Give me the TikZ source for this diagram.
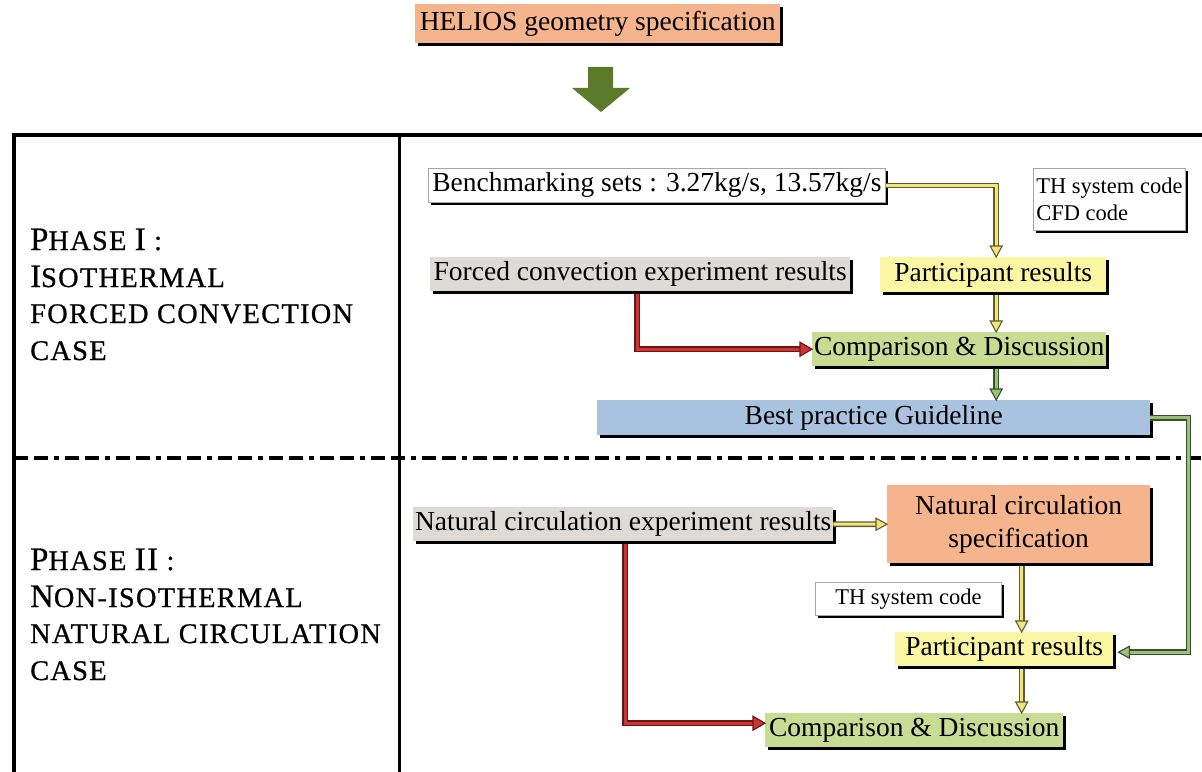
\documentclass[tikz,border=0pt]{standalone}
\usepackage{fontspec}
\setmainfont{Liberation Serif}
\usetikzlibrary{shadows,calc,decorations.markings}

\definecolor{boxorange}{HTML}{F6B48D}
\definecolor{boxgray}{HTML}{DEDAD5}
\definecolor{boxyellow}{HTML}{FBF6A4}
\definecolor{boxgreen}{HTML}{C8DC94}
\definecolor{boxblue}{HTML}{A8C2E0}
\definecolor{bigarrow}{HTML}{5B7B2A}
\definecolor{yin}{HTML}{F2E57A}
\definecolor{yout}{HTML}{5F5B34}
\definecolor{rin}{HTML}{CC3333}
\definecolor{rout}{HTML}{6A1414}
\definecolor{gin}{HTML}{9DBF7C}
\definecolor{gout}{HTML}{34522A}

% larger initial capitals for the phase titles
\newcommand\Bc[1]{{\fontsize{32.8bp}{32.8bp}\selectfont #1}}

\tikzset{
  box/.style={inner sep=0pt, anchor=north west, align=center,
    font=\fontsize{27.5bp}{33bp}\selectfont,
    drop shadow={shadow xshift=3bp, shadow yshift=-3bp, fill=black, opacity=1}},
  sz/.style 2 args={minimum width=#1bp, minimum height=#2bp},
  whitebox/.style={box, fill=white, draw=gray!70, line width=0.8bp},
  smalltext/.style={font=\fontsize{22.5bp}{27bp}\selectfont},
  phase/.style={inner sep=0pt, anchor=base west,
    font=\fontsize{28.4bp}{28.4bp}\selectfont\addfontfeature{LetterSpace=4.5,FakeBold=0.7}},
  link/.style={line width=1.4bp, double distance=3bp, line join=miter},
  tipmark/.style n args={5}{postaction={decorate, decoration={markings,
    mark=at position 1 with {\path[draw=#1, fill=#2, line width=1.1bp, shorten >=0pt]
      (-#3bp,-#4bp) -- (0,0) -- (-#3bp,#4bp) -- cycle;}}}, shorten >=#5bp},
  ylink/.style={link, draw=yout, double=yin, tipmark={yout}{yin}{11}{6}{10}},
  rlink/.style={link, draw=rout, double=rin, line width=1.5bp, double distance=3.2bp,
    tipmark={rout}{rin}{12}{7}{11}},
  glink/.style={link, draw=gout, double=gin, tipmark={gout}{gin}{11}{6}{10}},
}

\begin{document}
\begin{tikzpicture}[x=1bp, y=-1bp]
\path[use as bounding box] (0,0) rectangle (1202,772);

% frame of the two phases
\draw[line width=3.5bp] (12,135) -- (1202,135);
\draw[line width=3.5bp] (14,133.25) -- (14,772);
\draw[line width=3bp] (399,135) -- (399,772);
\draw[line width=4bp, dash pattern=on 14bp off 6bp on 14bp off 6bp on 5bp off 6bp]
  (14,458) -- (1202,458);

% top specification and the big arrow into the frame
\node[box, sz={365}{39}, fill=boxorange] (helios) at (415,4) {HELIOS geometry specification};
\fill[bigarrow] (588,67) -- (613,67) -- (613,88) -- (630,88) -- (601,112)
  -- (572,88) -- (588,88) -- cycle;

% phase titles
\node[phase] (t1a) at (30,250) {\Bc{P}HASE \Bc{I} :};
\node[phase] (t1b) at (30,287) {\Bc{I}SOTHERMAL};
\node[phase] (t1c) at (30,323) {FORCED CONVECTION};
\node[phase] (t1d) at (30,360) {CASE};
\node[phase] (t2a) at (30,570) {\Bc{P}HASE \Bc{II} :};
\node[phase] (t2b) at (30,607) {\Bc{N}ON-ISOTHERMAL};
\node[phase] (t2c) at (30,643) {NATURAL CIRCULATION};
\node[phase] (t2d) at (30,680) {CASE};

% phase I boxes
\node[whitebox, sz={457}{34}] (bench) at (428,168) {Benchmarking sets : 3.27kg/s, 13.57kg/s};
\node[whitebox, smalltext, sz={152}{62}, align=left] (codes) at (1033,168) {TH system code\\CFD code};
\node[box, sz={420}{34}, fill=boxgray] (forced) at (430,257) {Forced convection experiment results};
\node[box, sz={226}{35}, fill=boxyellow] (p1) at (880,257) {Participant results};
\node[box, sz={294}{34}, fill=boxgreen] (c1) at (812,332) {Comparison \& Discussion};
\node[box, sz={553}{35}, fill=boxblue] (best) at (597,400) {Best practice Guideline};

% phase II boxes
\node[box, sz={420}{34}, fill=boxgray] (natexp) at (413,507) {Natural circulation experiment results};
\node[box, sz={263}{78}, fill=boxorange] (natspec) at (887,485) {Natural circulation\\specification};
\node[whitebox, smalltext, sz={186}{33}] (th2) at (815,582) {TH system code};
\node[box, sz={218}{34}, fill=boxyellow] (p2) at (895,632) {Participant results};
\node[box, sz={298}{34}, fill=boxgreen] (c2) at (765,713) {Comparison \& Discussion};

% phase I connectors
\draw[ylink] (bench.east) -| ($(p1.north)+(3,0)$);
\draw[ylink] ($(p1.south)+(3,3)$) -- ($(p1.south |- c1.north)+(3,0)$);
\draw[rlink] ($(forced.south)+(-3,3)$) |- (c1.west);
\draw[glink] ($(p1.south |- c1.south)+(3,3)$) -- ($(p1.south |- best.north)+(3,0)$);
\draw[glink] (best.east) -- ++(38,0) |- ($(p2.east)+(5,3)$);

% phase II connectors
\draw[ylink] (natexp.east) -- (natspec.west);
\draw[ylink] ($(natspec.south)+(3,3)$) -- ($(natspec.south |- p2.north)+(3,0)$);
\draw[ylink] ($(natspec.south |- p2.south)+(3,3)$) -- ($(natspec.south |- c2.north)+(3,0)$);
\draw[rlink] ($(natexp.south)+(2,3)$) |- ($(c2.west)+(0,-7)$);
\end{tikzpicture}
\end{document}
